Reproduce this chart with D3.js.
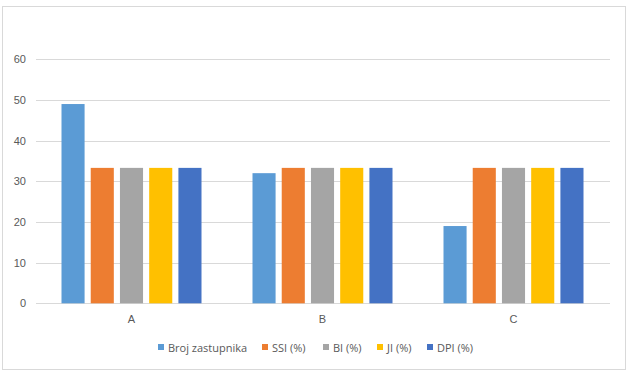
<!DOCTYPE html>
<html><head><meta charset="utf-8">
<script src="https://cdn.jsdelivr.net/npm/d3@7"></script>
<style>body{margin:0;background:#fff}svg{display:block;font-family:"Open Sans","Liberation Sans",sans-serif}</style>
</head><body><svg id="c" width="633" height="380"></svg>
<script>
const categories = ["A", "B", "C"];
const seriesNames = ["Broj zastupnika", "SSI (%)", "BI (%)", "JI (%)", "DPI (%)"];
const brojZastupnika = [49, 32, 19];
const ssi = [33.3, 33.3, 33.3];
const bi = [33.3, 33.3, 33.3];
const ji = [33.3, 33.3, 33.3];
const dpi = [33.3, 33.3, 33.3];
const yTicks = [0, 10, 20, 30, 40, 50, 60];
const colors = ["#5b9bd5", "#ed7d31", "#a5a5a5", "#ffc000", "#4472c4"];

const seriesValues = [brojZastupnika, ssi, bi, ji, dpi];
const svg = d3.select("#c");
svg.append("rect").attr("x", 2.5).attr("y", 6.5).attr("width", 623).attr("height", 363)
  .attr("fill", "#fff").attr("stroke", "#d9d9d9");

const x0 = d3.scaleBand().domain(categories).range([36, 609]).paddingInner(0).paddingOuter(0);
const groupW = 140;
const x1 = d3.scaleBand().domain(seriesNames).range([0, groupW]).paddingInner(0.21).paddingOuter(0);
const y = d3.scaleLinear().domain([0, 60]).range([303.3, 59.3]);

const grid = svg.append("g");
yTicks.forEach(t => {
  grid.append("line").attr("x1", 36).attr("x2", 610).attr("y1", Math.round(y(t)) + 0.5).attr("y2", Math.round(y(t)) + 0.5)
    .attr("stroke", "#d9d9d9").attr("stroke-width", 1);
});
const yAxis = d3.axisLeft(y).tickValues(yTicks).tickSize(0).tickPadding(0);
const ya = svg.append("g").attr("transform", "translate(26,0)").call(yAxis);
ya.select(".domain").remove();
ya.selectAll("text").attr("fill", "#595959").style("font-size", "11px");

const data = [];
categories.forEach((c, i) => seriesNames.forEach((s, j) => data.push({c, s, j, v: seriesValues[j][i]})));
svg.append("g").selectAll("rect").data(data).join("rect")
  .attr("x", d => x0(d.c) + (x0.bandwidth() - groupW) / 2 + x1(d.s))
  .attr("width", x1.bandwidth())
  .attr("y", d => y(d.v))
  .attr("height", d => y(0) - y(d.v))
  .attr("fill", d => colors[d.j]);

const xAxis = d3.axisBottom(x0).tickSize(0).tickPadding(0);
const xa = svg.append("g").attr("transform", "translate(0,315)").call(xAxis);
xa.select(".domain").remove();
xa.selectAll("text").attr("fill", "#595959").style("font-size", "11px");

const legendX = [158, 262, 323, 377, 427];
const lg = svg.append("g");
seriesNames.forEach((s, i) => {
  lg.append("rect").attr("x", legendX[i]).attr("y", 344).attr("width", 6).attr("height", 6).attr("fill", colors[i]);
  lg.append("text").attr("x", legendX[i] + 10).attr("y", 351.5).attr("fill", "#595959")
    .style("font-size", "11px").text(s);
});
</script></body></html>
